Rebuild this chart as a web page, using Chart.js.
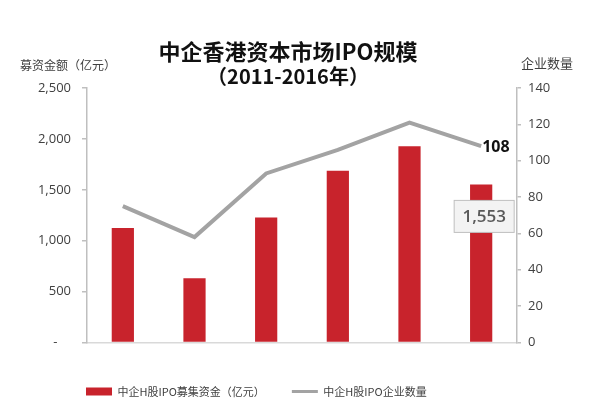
<!DOCTYPE html>
<html>
    <head>
        <meta charset="UTF-8">
        <title>中企香港资本市场IPO规模</title>
        <script src="https://cdn.jsdelivr.net/npm/chart.js"></script>
        <style>
            html, body { margin: 0; padding: 0; background: #fff; }
            #wrap { width: 599px; height: 418px; }
        </style>
    </head>
    <body>
        <div id="wrap"><canvas id="ipoChart"></canvas></div>
        <script>
        // 数据
        const years = ['2011', '2012', '2013', '2014', '2015', '2016'];
        const funds = [1125, 630, 1227, 1686, 1929, 1553];   // 中企H股IPO募集资金（亿元）
        const companies = [75, 58, 93, 106, 121, 108];       // 中企H股IPO企业数量
        const leftTicks = [0, 500, 1000, 1500, 2000, 2500];
        const rightTicks = [0, 20, 40, 60, 80, 100, 120, 140];

        const titleLines = ['中企香港资本市场IPO规模', '（2011-2016年）'];
        const leftTitle = '募资金额（亿元）';
        const rightTitle = '企业数量';

        const RED = '#C8232C';
        const GREY = '#A3A3A3';
        const AXIS = '#BFBFBF';
        const TEXT = '#404040';
        const NUM_FONT = '"Open Sans", "DejaVu Sans", sans-serif';
        const CJK_FONT = '"Noto Sans CJK SC", "Noto Sans", sans-serif';

        // 图例不和坐标轴一起居中，往右挪到原图的位置
        const legendShift = {
            id: 'legendShift',
            afterLayout(chart) {
                chart.legend.left = 59;
            }
        };

        // 标题、轴标题和数据标签
        const extraText = {
            id: 'extraText',
            afterDraw(chart) {
                const c = chart.ctx;
                c.save();
                c.textBaseline = 'middle';
                c.fillStyle = '#111';
                c.textAlign = 'center';
                c.font = 'bold 22px ' + CJK_FONT;
                c.fillText(titleLines[0], 288, 52);
                c.font = 'bold 20px ' + CJK_FONT;
                c.fillText(titleLines[1], 288, 76);

                c.fillStyle = TEXT;
                c.font = '12px ' + CJK_FONT;
                c.textAlign = 'left';
                c.fillText(leftTitle, 20, 65);
                c.font = '13px ' + CJK_FONT;
                c.fillText(rightTitle, 521, 63);

                // 最后一年的数值
                const last = years.length - 1;
                const bar = chart.getDatasetMeta(0).data[last];
                const pt = chart.getDatasetMeta(1).data[last];

                c.font = 'bold 16px ' + NUM_FONT;
                c.fillStyle = '#111';
                c.textAlign = 'left';
                c.fillText(String(companies[last]), pt.x + 1, pt.y + 1);

                const bx = bar.x + 3, by = bar.y + 32;
                c.fillStyle = '#F3F3F3';
                c.strokeStyle = AXIS;
                c.lineWidth = 1;
                c.fillRect(bx - 30, by - 16, 60, 32);
                c.strokeRect(bx - 30, by - 16, 60, 32);
                c.fillStyle = '#595959';
                c.textAlign = 'center';
                c.font = '600 17px ' + NUM_FONT;
                c.fillText(funds[last].toLocaleString('en-US'), bx, by + 1);
                c.restore();
            }
        };

        new Chart(document.getElementById('ipoChart'), {
            data: {
                labels: years,
                datasets: [
                    {
                        type: 'bar',
                        label: '中企H股IPO募集资金（亿元）',
                        data: funds,
                        backgroundColor: RED,
                        yAxisID: 'yL',
                        categoryPercentage: 0.62,
                        barPercentage: 0.5,
                        order: 2
                    },
                    {
                        type: 'line',
                        label: '中企H股IPO企业数量',
                        data: companies,
                        borderColor: GREY,
                        backgroundColor: GREY,
                        borderWidth: 4,
                        pointRadius: 0,
                        tension: 0,
                        yAxisID: 'yR',
                        order: 1
                    }
                ]
            },
            options: {
                responsive: true,
                maintainAspectRatio: false,
                animation: false,
                layout: { padding: { left: 0, right: 0, top: 88, bottom: 11 } },
                plugins: {
                    title: { display: false },
                    tooltip: { enabled: false },
                    legend: {
                        position: 'bottom',
                        align: 'start',
                        labels: {
                            usePointStyle: true,
                            pointStyleWidth: 26,
                            boxWidth: 26,
                            boxHeight: 8,
                            padding: 27,
                            color: TEXT,
                            font: { family: CJK_FONT, size: 11 },
                            generateLabels(chart) {
                                const items = Chart.defaults.plugins.legend.labels.generateLabels(chart);
                                items.sort((a, b) => a.datasetIndex - b.datasetIndex);
                                items[0].pointStyle = 'rect';
                                items[0].lineWidth = 0;
                                items[0].fillStyle = RED;
                                items[1].pointStyle = 'line';
                                items[1].lineWidth = 3;
                                items[1].strokeStyle = GREY;
                                return items;
                            }
                        }
                    }
                },
                scales: {
                    x: {
                        afterFit(s) { s.height = 16.5; },
                        grid: { display: false },
                        border: { color: '#D9D9D9', width: 1.5 },
                        ticks: { color: TEXT, padding: 9, font: { family: NUM_FONT, size: 12 } }
                    },
                    yL: {
                        position: 'left',
                        min: 0,
                        max: 2500,
                        afterFit(s) { s.width = 87; },
                        afterBuildTicks(s) { s.ticks = leftTicks.map(v => ({ value: v })); },
                        grid: { drawOnChartArea: false, tickLength: 5, color: AXIS, lineWidth: 1.5 },
                        border: { color: AXIS, width: 1.5 },
                        ticks: {
                            color: TEXT,
                            padding: 11,
                            font: { family: NUM_FONT, size: 13 },
                            callback: v => v === 0 ? '-    ' : v.toLocaleString('en-US')
                        }
                    },
                    yR: {
                        position: 'right',
                        min: 0,
                        max: 140,
                        afterFit(s) { s.width = 82; },
                        afterBuildTicks(s) { s.ticks = rightTicks.map(v => ({ value: v })); },
                        grid: { drawOnChartArea: false, tickLength: 4, color: AXIS, lineWidth: 1.5 },
                        border: { color: AXIS, width: 1.5 },
                        ticks: { color: TEXT, padding: 7, font: { family: NUM_FONT, size: 13 } }
                    }
                }
            },
            plugins: [legendShift, extraText]
        });
        </script>
    </body>
</html>
